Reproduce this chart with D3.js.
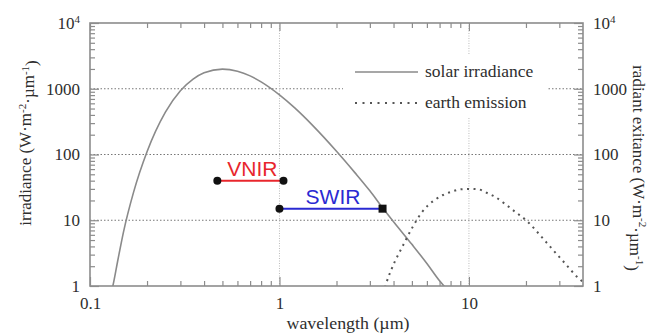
<!DOCTYPE html>
<html>
<head>
<meta charset="utf-8">
<script src="https://cdn.jsdelivr.net/npm/d3@7"></script>
<style>
  html, body { margin: 0; padding: 0; background: #fff; }
  svg { display: block; }
</style>
</head>
<body>
<script>
// ---------------- data ----------------
const solarWavelength = [0.125, 0.132, 0.14, 0.15, 0.17, 0.2, 0.25, 0.3, 0.35, 0.4, 0.5, 0.6, 0.7, 0.8, 1.0, 1.2, 1.5, 2, 2.5, 3, 3.5, 4, 5, 6, 7, 7.5];
const solarIrradiance = [0.55, 1.0, 2.4, 6.5, 27, 110, 440, 930, 1400, 1750, 1990, 1850, 1570, 1270, 805, 515, 275, 112, 53, 28, 15.5, 9.5, 4.3, 2.2, 1.2, 0.95];

const earthWavelength = [3.6, 3.66, 4.05, 4.4, 5.06, 5.6, 6.1, 6.6, 7.3, 8.1, 9, 10, 11.2, 12.4, 13.7, 15.5, 17.5, 20.2, 23.3, 27.4, 32.2, 37.9, 40];
const earthExitance  = [0.95, 1.1, 2.3, 3.7, 8, 12.8, 17, 20.3, 24.2, 27.2, 29.5, 30, 29.6, 26.2, 22.8, 17.7, 13.5, 9.8, 6.3, 3.7, 2.2, 1.31, 1.15];

const bandNames  = ["VNIR", "SWIR"];
const bandStart  = [0.47, 1.0];
const bandEnd    = [1.05, 3.5];
const bandLevel  = [40, 15];

const xDomain = [0.1, 40];
const yDomain = [1, 10000];
const xMajorTicks = [0.1, 1, 10];
const xTickLabels = ["0.1", "1", "10"];
const xMinorTicks = [0.2, 0.3, 0.4, 0.5, 0.6, 0.7, 0.8, 0.9, 2, 3, 4, 5, 6, 7, 8, 9, 20, 30];
const yMajorTicks = [1, 10, 100, 1000, 10000];
const yTickLabels = [["1"], ["10"], ["100"], ["1000"], ["10", "4"]];
const yMinorTicks = [2,3,4,5,6,7,8,9,20,30,40,50,60,70,80,90,200,300,400,500,600,700,800,900,2000,3000,4000,5000,6000,7000,8000,9000];
const legendLabels = ["solar irradiance", "earth emission"];

// ---------------- layout ----------------
const W = 651, H = 336;
const L = 90, R = 583, T = 23, B = 286;
const frameColor = "#8c8c8c";
const SERIF = "'Liberation Serif', 'Times New Roman', serif";
const SANS = "'Liberation Sans', Arial, sans-serif";
const textColor = "#2e2e2e";

const svg = d3.select("body").append("svg").attr("width", W).attr("height", H);

const x = d3.scaleLog().domain(xDomain).range([L, R]);
const y = d3.scaleLog().domain(yDomain).range([B, T]);

svg.append("defs").append("clipPath").attr("id", "plotclip")
  .append("rect").attr("x", L).attr("y", T).attr("width", R - L).attr("height", B - T);

// grid
const grid = svg.append("g");
grid.selectAll("line.hg").data([10, 100, 1000]).join("line")
  .attr("x1", L).attr("x2", R).attr("y1", d => y(d)).attr("y2", d => y(d))
  .attr("stroke", "#777").attr("stroke-width", 1.2).attr("stroke-dasharray", "1.5,2");
grid.selectAll("line.vg").data([1, 10]).join("line")
  .attr("y1", T).attr("y2", B).attr("x1", d => x(d)).attr("x2", d => x(d))
  .attr("stroke", "#bbb").attr("stroke-width", 1).attr("stroke-dasharray", "1,1.5");

// legend background (hides grid)
const leg = svg.append("g");
leg.append("rect").attr("x", 343).attr("y", 55).attr("width", 205).attr("height", 62).attr("fill", "#fff");

// curves
const line = d3.line().x(d => x(d[0])).y(d => y(d[1])).curve(d3.curveMonotoneX);
const plot = svg.append("g").attr("clip-path", "url(#plotclip)");
plot.append("path").datum(d3.zip(solarWavelength, solarIrradiance))
  .attr("d", line).attr("fill", "none").attr("stroke", "#8a8a8a").attr("stroke-width", 1.6);
plot.append("path").datum(d3.zip(earthWavelength, earthExitance))
  .attr("d", line).attr("fill", "none").attr("stroke", "#555").attr("stroke-width", 2)
  .attr("stroke-dasharray", "2,4.5");

// axes
function styleAxis(g) {
  g.select(".domain").remove();
  g.selectAll(".tick line").attr("stroke", frameColor).attr("stroke-width", 1.2);
  g.selectAll(".tick text").style("fill", textColor).style("font-size", "17px")
    .style("font-family", SERIF);
}

// bottom
svg.append("g").attr("transform", `translate(0,${B})`)
  .call(d3.axisBottom(x).tickValues(xMajorTicks).tickSize(-9).tickPadding(11)
    .tickFormat((d, i) => xTickLabels[i]))
  .call(styleAxis);
svg.append("g").attr("transform", `translate(0,${B})`)
  .call(d3.axisBottom(x).tickValues(xMinorTicks).tickSize(-5).tickFormat(""))
  .call(styleAxis);
// top
svg.append("g").attr("transform", `translate(0,${T})`)
  .call(d3.axisTop(x).tickValues(xMajorTicks).tickSize(-8).tickFormat(""))
  .call(styleAxis);
svg.append("g").attr("transform", `translate(0,${T})`)
  .call(d3.axisTop(x).tickValues(xMinorTicks).tickSize(-5).tickFormat(""))
  .call(styleAxis);

function yLabel(g) {
  g.selectAll(".tick text").each(function (d) {
    const parts = yTickLabels[yMajorTicks.indexOf(d)];
    const t = d3.select(this).text(parts[0]);
    if (parts[1]) t.append("tspan").attr("dy", "-0.55em").style("font-size", "11px").text(parts[1]);
  });
}
// left
svg.append("g").attr("transform", `translate(${L},0)`)
  .call(d3.axisLeft(y).tickValues(yMajorTicks).tickSize(-9).tickPadding(10))
  .call(styleAxis).call(yLabel);
svg.append("g").attr("transform", `translate(${L},0)`)
  .call(d3.axisLeft(y).tickValues(yMinorTicks).tickSize(-5).tickFormat(""))
  .call(styleAxis);
// right
svg.append("g").attr("transform", `translate(${R},0)`)
  .call(d3.axisRight(y).tickValues(yMajorTicks).tickSize(-9).tickPadding(10))
  .call(styleAxis).call(yLabel);
svg.append("g").attr("transform", `translate(${R},0)`)
  .call(d3.axisRight(y).tickValues(yMinorTicks).tickSize(-5).tickFormat(""))
  .call(styleAxis);

// frame
svg.append("rect").attr("x", L).attr("y", T).attr("width", R - L).attr("height", B - T)
  .attr("fill", "none").attr("stroke", frameColor).attr("stroke-width", 1.6);

// legend
const legY = [72, 103];
leg.append("line").attr("x1", 355).attr("x2", 418).attr("y1", legY[0]).attr("y2", legY[0])
  .attr("stroke", "#8a8a8a").attr("stroke-width", 1.6);
leg.append("line").attr("x1", 355).attr("x2", 418).attr("y1", legY[1]).attr("y2", legY[1])
  .attr("stroke", "#555").attr("stroke-width", 2).attr("stroke-dasharray", "2,5.5");
leg.selectAll("text").data(legendLabels).join("text")
  .attr("x", 425).attr("y", (d, i) => legY[i] + 5)
  .style("font-family", SERIF).style("font-size", "17.5px").style("fill", textColor)
  .text(d => d);

// bands
const bandColors = ["#e8262c", "#2a2ad2"];
const bands = svg.append("g");
bandNames.forEach((name, i) => {
  const x0 = x(bandStart[i]), x1 = x(bandEnd[i]), yy = y(bandLevel[i]);
  bands.append("line").attr("x1", x0).attr("x2", x1).attr("y1", yy).attr("y2", yy)
    .attr("stroke", bandColors[i]).attr("stroke-width", 2);
  bands.append("circle").attr("cx", x0).attr("cy", yy).attr("r", 4).attr("fill", "#111");
  if (i === 1) {
    bands.append("rect").attr("x", x1 - 4).attr("y", yy - 4).attr("width", 8).attr("height", 8).attr("fill", "#111");
  } else {
    bands.append("circle").attr("cx", x1).attr("cy", yy).attr("r", 4).attr("fill", "#111");
  }
  bands.append("text").attr("x", (x0 + x1) / 2 + 2).attr("y", yy - 5)
    .attr("text-anchor", "middle")
    .style("font-family", SANS).style("font-size", "21px").style("fill", bandColors[i])
    .text(name);
});

// axis titles
svg.append("text").attr("x", 348).attr("y", 329).attr("text-anchor", "middle")
  .style("font-family", SERIF).style("font-size", "17px").style("fill", textColor)
  .attr("textLength", 123).attr("lengthAdjust", "spacingAndGlyphs")
  .text("wavelength (µm)");

function unitTitle(t, lead) {
  t.append("tspan").text(lead + " (W·m");
  t.append("tspan").attr("dy", "-0.5em").style("font-size", "11px").text("-2");
  t.append("tspan").attr("dy", "0.5em").text("·µm");
  t.append("tspan").attr("dy", "-0.5em").style("font-size", "11px").text("-1");
  t.append("tspan").attr("dy", "0.5em").text(")");
}
const lt = svg.append("text").attr("transform", "translate(31,143) rotate(-90)")
  .attr("text-anchor", "middle")
  .style("font-family", SERIF).style("font-size", "17px").style("fill", textColor);
unitTitle(lt, "irradiance");
const rt = svg.append("text").attr("transform", "translate(633,168) rotate(90)")
  .attr("text-anchor", "middle")
  .style("font-family", SERIF).style("font-size", "17px").style("fill", textColor);
unitTitle(rt, "radiant exitance");
</script>
</body>
</html>
